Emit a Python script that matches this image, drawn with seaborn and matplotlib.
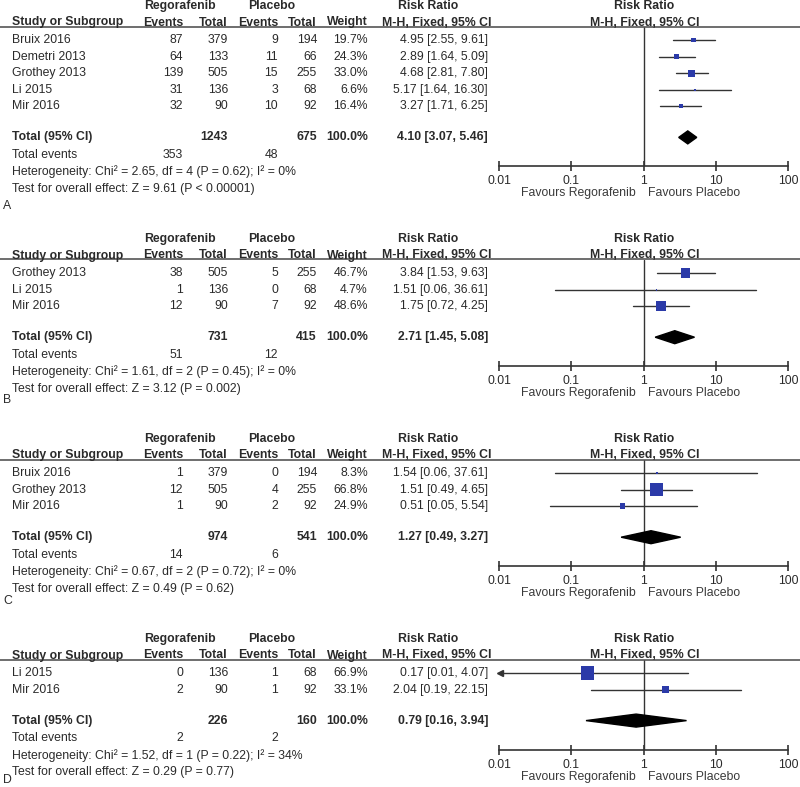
import numpy as np
import pandas as pd
import matplotlib
matplotlib.use("Agg")
import matplotlib.pyplot as plt
from matplotlib.lines import Line2D
from matplotlib.patches import Polygon
import seaborn as sns

# ---------------- data ----------------
panel_letters = ["A", "B", "C", "D"]
studies = [
    ["Bruix 2016", "Demetri 2013", "Grothey 2013", "Li 2015", "Mir 2016"],
    ["Grothey 2013", "Li 2015", "Mir 2016"],
    ["Bruix 2016", "Grothey 2013", "Mir 2016"],
    ["Li 2015", "Mir 2016"],
]
reg_events = [[87, 64, 139, 31, 32], [38, 1, 12], [1, 12, 1], [0, 2]]
reg_total = [[379, 133, 505, 136, 90], [505, 136, 90], [379, 505, 90], [136, 90]]
pla_events = [[9, 11, 15, 3, 10], [5, 0, 7], [0, 4, 2], [1, 1]]
pla_total = [[194, 66, 255, 68, 92], [255, 68, 92], [194, 255, 92], [68, 92]]
weights = [[19.7, 24.3, 33.0, 6.6, 16.4], [46.7, 4.7, 48.6], [8.3, 66.8, 24.9], [66.9, 33.1]]
rr = [[4.95, 2.89, 4.68, 5.17, 3.27], [3.84, 1.51, 1.75], [1.54, 1.51, 0.51], [0.17, 2.04]]
rr_lo = [[2.55, 1.64, 2.81, 1.64, 1.71], [1.53, 0.06, 0.72], [0.06, 0.49, 0.05], [0.01, 0.19]]
rr_hi = [[9.61, 5.09, 7.80, 16.30, 6.25], [9.63, 36.61, 4.25], [37.61, 4.65, 5.54], [4.07, 22.15]]
tot_reg_total = [1243, 731, 974, 226]
tot_pla_total = [675, 415, 541, 160]
tot_reg_events = [353, 51, 14, 2]
tot_pla_events = [48, 12, 6, 2]
tot_rr = [4.10, 2.71, 1.27, 0.79]
tot_lo = [3.07, 1.45, 0.49, 0.16]
tot_hi = [5.46, 5.08, 3.27, 3.94]
heterogeneity = [
    "Heterogeneity: Chi\u00b2 = 2.65, df = 4 (P = 0.62); I\u00b2 = 0%",
    "Heterogeneity: Chi\u00b2 = 1.61, df = 2 (P = 0.45); I\u00b2 = 0%",
    "Heterogeneity: Chi\u00b2 = 0.67, df = 2 (P = 0.72); I\u00b2 = 0%",
    "Heterogeneity: Chi\u00b2 = 1.52, df = 1 (P = 0.22); I\u00b2 = 34%",
]
overall = [
    "Test for overall effect: Z = 9.61 (P < 0.00001)",
    "Test for overall effect: Z = 3.12 (P = 0.002)",
    "Test for overall effect: Z = 0.49 (P = 0.62)",
    "Test for overall effect: Z = 0.29 (P = 0.77)",
]
xticks = [0.01, 0.1, 1, 10, 100]
xtick_labels = ["0.01", "0.1", "1", "10", "100"]

# ---------------- layout ----------------
W, H = 800, 787
sns.set_theme(style="white")
plt.rcParams["font.family"] = ["Liberation Sans", "DejaVu Sans"]
FS = 8.8
TXT = "#2a2a2a"
BLUE = "#2b3aa8"

fig = plt.figure(figsize=(W / 100, H / 100), dpi=100)
fig.patch.set_facecolor("white")


def T(x, y, s, ha="left", bold=False, color=TXT, size=FS):
    fig.text(x / W, 1 - y / H, s, ha=ha, va="center", fontsize=size,
             fontweight="bold" if bold else "normal", color=color)


header_y = [6, 239, 439, 639]
letter_y = [206, 400, 601, 780]
ROW = 16.6
AX_X0, AX_X1 = 499, 788

for p in range(4):
    h = header_y[p]
    n = len(studies[p])
    line_y = h + 20.5
    rows_y = [h + 34 + i * ROW for i in range(n)]
    tot_y = rows_y[-1] + 31
    ev_y = tot_y + 17.5
    het_y = ev_y + 17
    test_y = het_y + 17
    axis_y = tot_y + 29

    # headers
    T(180, h, "Regorafenib", ha="center", bold=True)
    T(272, h, "Placebo", ha="center", bold=True)
    T(428, h, "Risk Ratio", ha="center", bold=True)
    T(644, h, "Risk Ratio", ha="center", bold=True)
    y2 = h + 16.5
    T(12, y2, "Study or Subgroup", bold=True)
    T(183, y2, "Events", ha="right", bold=True)
    T(228, y2, "Total", ha="right", bold=True)
    T(278, y2, "Events", ha="right", bold=True)
    T(317, y2, "Total", ha="right", bold=True)
    T(368, y2, "Weight", ha="right", bold=True)
    T(437, y2, "M-H, Fixed, 95% CI", ha="center", bold=True)
    T(645, y2, "M-H, Fixed, 95% CI", ha="center", bold=True)
    fig.add_artist(Line2D([0, 1], [1 - line_y / H] * 2, color="#555555", lw=1.2))

    # study rows
    for i in range(n):
        y = rows_y[i]
        T(12, y, studies[p][i])
        T(183, y, str(reg_events[p][i]), ha="right")
        T(228, y, str(reg_total[p][i]), ha="right")
        T(278, y, str(pla_events[p][i]), ha="right")
        T(317, y, str(pla_total[p][i]), ha="right")
        T(368, y, f"{weights[p][i]:.1f}%", ha="right")
        T(488, y, f"{rr[p][i]:.2f} [{rr_lo[p][i]:.2f}, {rr_hi[p][i]:.2f}]", ha="right")

    # total rows
    T(12, tot_y, "Total (95% CI)", bold=True)
    T(228, tot_y, str(tot_reg_total[p]), ha="right", bold=True)
    T(317, tot_y, str(tot_pla_total[p]), ha="right", bold=True)
    T(368, tot_y, "100.0%", ha="right", bold=True)
    T(488, tot_y, f"{tot_rr[p]:.2f} [{tot_lo[p]:.2f}, {tot_hi[p]:.2f}]", ha="right", bold=True)
    T(12, ev_y, "Total events")
    T(183, ev_y, str(tot_reg_events[p]), ha="right")
    T(278, ev_y, str(tot_pla_events[p]), ha="right")
    T(12, het_y, heterogeneity[p])
    T(12, test_y, overall[p])
    T(3, letter_y[p], panel_letters[p])

    # forest axes (y in pixel units, inverted)
    ax = fig.add_axes([AX_X0 / W, 1 - axis_y / H, (AX_X1 - AX_X0) / W, (axis_y - line_y) / H])
    ax.set_facecolor("none")
    ax.set_xscale("log")
    ax.set_xlim(0.01, 100)
    ax.set_ylim(axis_y, line_y)
    for s in ["top", "left", "right"]:
        ax.spines[s].set_visible(False)
    ax.spines["bottom"].set_color("#333333")
    ax.spines["bottom"].set_linewidth(1.2)
    ax.set_xticks(xticks)
    ax.set_xticklabels(xtick_labels)
    ax.xaxis.set_minor_locator(matplotlib.ticker.NullLocator())
    ax.tick_params(axis="x", direction="inout", length=7, width=1.2, color="#333333",
                   labelsize=FS, labelcolor=TXT, pad=3, bottom=True)
    ax.set_yticks([])
    ax.grid(False)
    ax.axvline(1, color="#333333", lw=1.0, zorder=1)

    # CI lines
    for i in range(n):
        lo = max(rr_lo[p][i], 0.0101)
        ax.plot([lo, rr_hi[p][i]], [rows_y[i]] * 2, color="#333333", lw=1.0, zorder=2,
                clip_on=False)
        if rr_lo[p][i] <= 0.01:
            ax.plot([0.0102], [rows_y[i]], marker="<", color="#333333", ms=4, zorder=3,
                    clip_on=False)

    # squares via seaborn
    df = pd.DataFrame({"rr": rr[p], "y": rows_y, "w": weights[p]})
    side_pt = (1.0 + 0.18 * df["w"]) * 0.72
    sns.scatterplot(data=df, x="rr", y="y", marker="s", s=(side_pt ** 2).values,
                    color=BLUE, edgecolor=BLUE, linewidth=0, ax=ax, zorder=4,
                    legend=False, clip_on=False)
    ax.set_xlabel("")
    ax.set_ylabel("")

    # diamond
    dh = 6.5
    diamond = Polygon([[tot_lo[p], tot_y], [tot_rr[p], tot_y - dh], [tot_hi[p], tot_y],
                       [tot_rr[p], tot_y + dh]], closed=True, color="black", zorder=5)
    ax.add_patch(diamond)

    # favours labels
    fav_y = axis_y + 27
    T(636, fav_y, "Favours Regorafenib", ha="right", color="#3a3a3a")
    T(648, fav_y, "Favours Placebo", ha="left", color="#3a3a3a")

fig.savefig("out.png", dpi=100, facecolor="white")
